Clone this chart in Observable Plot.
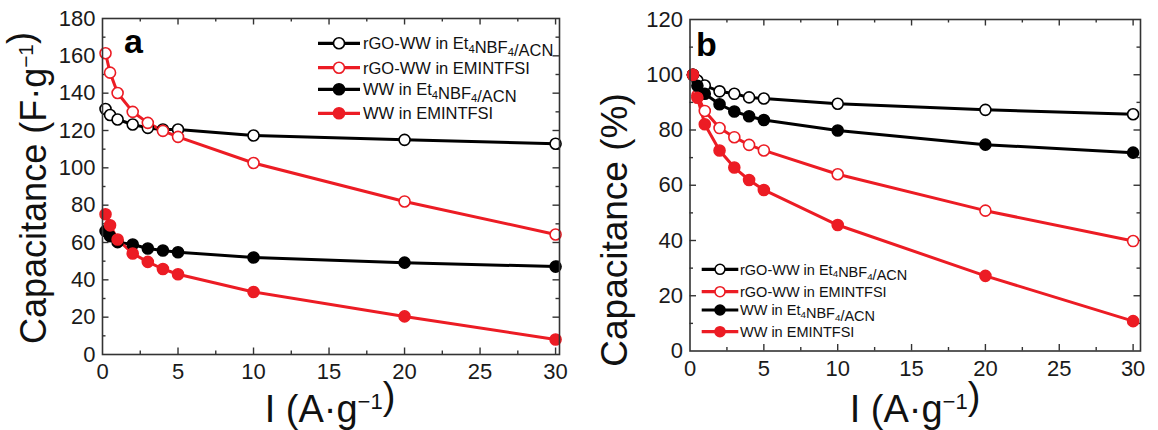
<!DOCTYPE html>
<html><head><meta charset="utf-8">
<script src="https://cdn.jsdelivr.net/npm/d3@7"></script>
<script src="https://cdn.jsdelivr.net/npm/@observablehq/plot@0.6"></script>
<style>
body{margin:0;background:#fff;font-family:Arial,"Liberation Sans",sans-serif}
#wrap{display:flex;width:1158px;height:430px;overflow:hidden}
svg{overflow:visible}
</style></head><body><div id="wrap"></div>
<script>
// ---- data ----
const current = [0.2, 0.5, 1, 2, 3, 4, 5, 10, 20, 30];
const seriesNames = ["rGO-WW in Et4NBF4/ACN", "rGO-WW in EMINTFSI", "WW in Et4NBF4/ACN", "WW in EMINTFSI"];
const capA_rgoEt = [131.5, 128.3, 125.9, 123.2, 121.4, 120.5, 120.5, 117.3, 115.0, 112.9];
const capA_rgoEm = [161.4, 151.0, 140.1, 130.0, 124.1, 119.8, 116.6, 102.6, 82.0, 64.3];
const capA_wwEt = [66.1, 63.4, 60.2, 58.9, 56.8, 55.7, 54.8, 52.0, 49.2, 47.1];
const capA_wwEm = [75.1, 69.2, 61.6, 54.1, 49.6, 45.8, 43.0, 33.5, 20.4, 8.0];
const retB_rgoEt = [100, 97.9, 96.1, 94.0, 93.1, 91.8, 91.4, 89.5, 87.3, 85.7];
const retB_rgoEm = [100, 92.5, 86.9, 80.7, 77.4, 74.6, 72.6, 64.0, 50.8, 39.8];
const retB_wwEt = [100, 96.0, 93.1, 89.3, 86.7, 85.0, 83.6, 79.8, 74.7, 71.8];
const retB_wwEm = [100, 91.7, 82.1, 72.6, 66.4, 61.9, 58.3, 45.6, 27.2, 10.8];
const xMajor = [0, 5, 10, 15, 20, 25, 30];
const xMinor = [2.5, 7.5, 12.5, 17.5, 22.5, 27.5];
const yMajorA = [0, 20, 40, 60, 80, 100, 120, 140, 160, 180];
const yMinorA = [10, 30, 50, 70, 90, 110, 130, 150, 170];
const yMajorB = [0, 20, 40, 60, 80, 100, 120];
const yMinorB = [10, 30, 50, 70, 90, 110];

// ---- styles ----
const BLACK = "#000", RED = "#ec1c24", AXIS = "#333";
const styles = [
  {color: BLACK, filled: false},
  {color: RED, filled: false},
  {color: BLACK, filled: true},
  {color: RED, filled: true}
];

function rows(vals) { return current.map((x, i) => ({x, y: vals[i]})); }

function panel(cfg) {
  const {width, height, mt, mb, ml, mr, xMax, yMax, yMajor, yMinor, series, r} = cfg;
  const pw = width - ml - mr, ph = height - mt - mb;
  const marks = [];
  const tk = (data, len, kind) => {
    if (kind === "x") {
      marks.push(Plot.tickX(data, {x: d => d, insetTop: ph - len, stroke: AXIS, strokeWidth: 1.4}));
      marks.push(Plot.tickX(data, {x: d => d, insetBottom: ph - len, stroke: AXIS, strokeWidth: 1.4}));
    } else {
      marks.push(Plot.tickY(data, {y: d => d, insetRight: pw - len, stroke: AXIS, strokeWidth: 1.4}));
      marks.push(Plot.tickY(data, {y: d => d, insetLeft: pw - len, stroke: AXIS, strokeWidth: 1.4}));
    }
  };
  tk(xMajor.filter(d => d > 0 && d < xMax), 6.5, "x");
  tk(xMinor, 3.5, "x");
  tk(yMajor.filter(d => d > 0 && d < yMax), 6.5, "y");
  tk(yMinor, 3.5, "y");
  series.forEach((vals, i) => {
    const s = styles[i];
    marks.push(Plot.line(rows(vals), {x: "x", y: "y", stroke: s.color, strokeWidth: 3}));
  });
  series.forEach((vals, i) => {
    const s = styles[i];
    marks.push(Plot.dot(rows(vals), {x: "x", y: "y", r, stroke: s.color, strokeWidth: 1.6, fill: s.filled ? s.color : "white"}));
  });
  marks.push(Plot.frame({stroke: AXIS, strokeWidth: 1.6}));
  marks.push(Plot.axisX(xMajor, {tickSize: 0, tickPadding: 9, label: null, fill: "#1a1a1a"}));
  marks.push(Plot.axisY(yMajor, {tickSize: 0, tickPadding: 7, label: null, fill: "#1a1a1a"}));
  return Plot.plot({
    width, height, marginTop: mt, marginBottom: mb, marginLeft: ml, marginRight: mr,
    x: {domain: [0, xMax]}, y: {domain: [0, yMax]},
    style: {fontSize: "22px", fontFamily: "Arial, 'Liberation Sans', sans-serif", background: "white", overflow: "visible"},
    marks
  });
}

function addLabel(sel, parts, attrs) {
  const t = sel.append("text").attr("text-anchor", "start");
  Object.entries(attrs).forEach(([k, v]) => t.attr(k, v));
  parts.forEach(p => {
    if (typeof p === "string") t.append("tspan").text(p);
    else if (p.sup) { t.append("tspan").attr("font-size", "58%").attr("dy", "-0.6em").text(p.sup); t.append("tspan").attr("dy", "0.35em").text(""); }
    else if (p.sub) { t.append("tspan").attr("font-size", "68%").attr("dy", "0.3em").text(p.sub); t.append("tspan").attr("dy", "-0.2em").text(""); }
  });
  return t;
}

function legendParts(name) {
  const m = name.split("Et4NBF4");
  if (m.length === 1) return [name];
  return [m[0] + "Et", {sub: "4"}, "NBF", {sub: "4"}, m[1]];
}

function drawLegend(svg, cfg) {
  const g = d3.select(svg).append("g");
  seriesNames.forEach((name, i) => {
    const s = styles[i];
    const y = cfg.rows[i];
    g.append("line").attr("x1", cfg.x1).attr("x2", cfg.x2).attr("y1", y).attr("y2", y)
      .attr("stroke", s.color).attr("stroke-width", 3.2);
    g.append("circle").attr("cx", (cfg.x1 + cfg.x2) / 2).attr("cy", y).attr("r", cfg.r)
      .attr("stroke", s.color).attr("stroke-width", 1.6).attr("fill", s.filled ? s.color : "white");
    addLabel(g, legendParts(name), {x: cfg.tx, y: y + cfg.fs * 0.36, "font-size": cfg.fs, fill: "#111", "text-anchor": "start"});
  });
}

const wrap = document.getElementById("wrap");

// Panel a
const svgA = panel({width: 579, height: 430, mt: 18, mb: 76, ml: 102, mr: 20, xMax: 30.26, yMax: 180,
  yMajor: yMajorA, yMinor: yMinorA, series: [capA_rgoEt, capA_rgoEm, capA_wwEt, capA_wwEm], r: 5.5});
wrap.appendChild(svgA);
const A = d3.select(svgA);
addLabel(A, ["Capacitance (F·g", {sup: "\u22121"}, ")"], {transform: "translate(46,188) rotate(-90)", "text-anchor": "middle", "font-size": 36, fill: "#111"});
addLabel(A, ["I (A·g", {sup: "\u22121"}, ")"], {x: 330, y: 422, "text-anchor": "middle", "font-size": 38, fill: "#111"});
A.append("text").attr("x", 124).attr("y", 53).attr("font-size", 34).attr("font-weight", "bold").attr("text-anchor", "start").text("a");
drawLegend(svgA, {x1: 318, x2: 360, tx: 363, rows: [43.3, 67.7, 89.3, 113.3], r: 5.5, fs: 16.5});

// Panel b
const svgB = panel({width: 579, height: 430, mt: 19, mb: 79.5, ml: 110.5, mr: 18, xMax: 30.5, yMax: 120,
  yMajor: yMajorB, yMinor: yMinorB, series: [retB_rgoEt, retB_rgoEm, retB_wwEt, retB_wwEm], r: 5.5});
wrap.appendChild(svgB);
const B = d3.select(svgB);
addLabel(B, ["Capacitance (%)"], {transform: "translate(48,230) rotate(-90)", "text-anchor": "middle", "font-size": 37, fill: "#111"});
addLabel(B, ["I (A·g", {sup: "\u22121"}, ")"], {x: 336, y: 422, "text-anchor": "middle", "font-size": 38, fill: "#111"});
B.append("text").attr("x", 117).attr("y", 56).attr("font-size", 34).attr("font-weight", "bold").attr("text-anchor", "start").text("b");
drawLegend(svgB, {x1: 122.7, x2: 159.3, tx: 161, rows: [269.3, 291.7, 310, 331.7], r: 5, fs: 14.5});
</script></body></html>
